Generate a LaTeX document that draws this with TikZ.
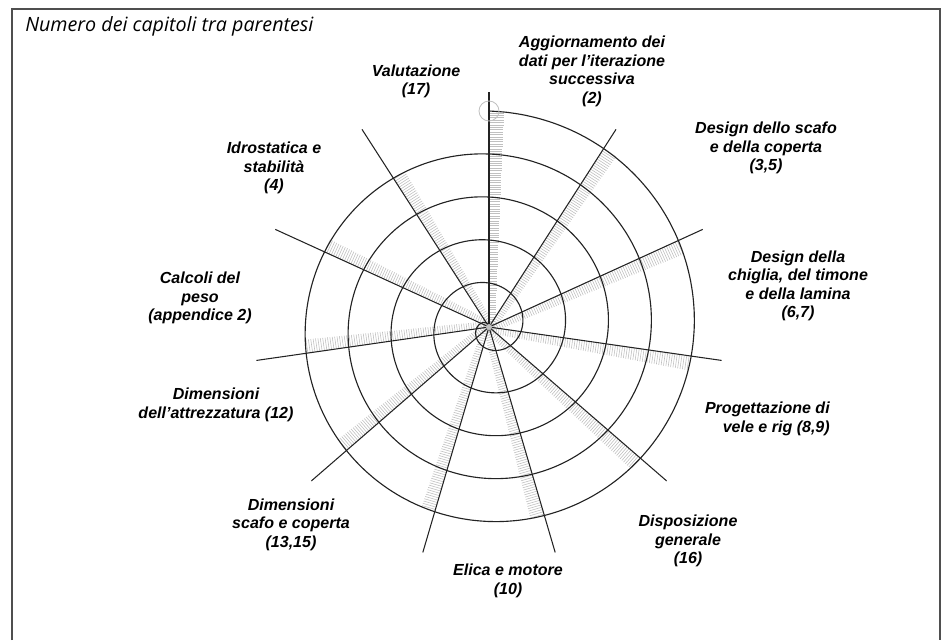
\documentclass[tikz,border=0pt]{standalone}
\usepackage{fontspec}
\setmainfont{Liberation Sans}
\newfontfamily\notefont{Open Sans}
\usetikzlibrary{positioning,calc}
\definecolor{ink}{RGB}{35,35,35}
\definecolor{hatch}{RGB}{192,192,192}

\begin{document}
\begin{tikzpicture}[x=0.025cm, y=0.025cm,
    spoke/.style={draw=ink, line width=0.75pt},
    spiral/.style={draw=ink, line width=0.8pt},
    tick/.style={draw=hatch, line width=0.42pt},
    stage/.style={font=\fontsize{11.4}{13.2}\selectfont\bfseries\itshape,
      inner sep=0pt},
  ]
  \useasboundingbox (0,0) rectangle (946,640);
  % Frame, open at the bottom
  \draw[ink!80, line width=0.9pt] (12,0) -- (12,631) -- (940,631) -- (940,0);
  \coordinate (c) at (489,313);

  % Hatching on the clockwise side of each spoke
  \foreach \k in {0,...,10}{
    \pgfmathsetmacro{\ang}{90-\k*360/11}
    \pgfmathsetmacro{\rout}{216-43*\k/11}
    \begin{scope}[shift={(c)}, rotate=\ang]
      \foreach \r in {3,5.4,...,\rout}
        \draw[tick] (\r,0) -- (\r,{-(6+0.042*\r)});
    \end{scope}
  }

  % Spokes
  \foreach \k in {0,...,10}
    \draw[spoke] (c) -- ++({90-\k*360/11}:235) coordinate (s\k);

  % Spiral
  \draw[spiral, shift={(c)}] plot[domain=0:1800, samples=400, smooth]
    ({90-\x}:{216-0.119444*\x});
  \draw[hatch, line width=0.6pt] ($(c)+(0,216)$) circle (10);
  \fill[hatch] (c) circle (3);

  % Stages
  \node[font=\notefont\itshape\fontsize{14}{16}\selectfont,
    anchor=base west, inner sep=0pt] (note) at (25,608)
    {Numero dei capitoli tra parentesi};
  \node[stage, align=center] (update) at (592,568.5)
    {Aggiornamento dei\\dati per l'iterazione\\successiva\\(2)};
  \node[stage, align=center] (eval) at (416,558.5) {Valutazione\\(17)};
  \node[stage, align=center] (hull) at (766,492)
    {Design dello scafo\\e della coperta\\(3,5)};
  \node[stage, align=center] (keel) at (798,354)
    {Design della\\chiglia, del timone\\e della lamina\\(6,7)};
  \node[stage, align=right, anchor=east] (sails) at (830,221)
    {Progettazione di\\vele e rig (8,9)};
  \node[stage, align=center] (layout) at (688,99)
    {Disposizione\\generale\\(16)};
  \node[stage, align=center] (engine) at (508,59) {Elica e motore\\(10)};
  \node[stage, align=center] (scant) at (291,115.5)
    {Dimensioni\\scafo e coperta\\(13,15)};
  \node[stage, align=center] (rigdim) at (216,235)
    {Dimensioni\\dell'attrezzatura (12)};
  \node[stage, align=center] (weight) at (200,342)
    {Calcoli del\\peso\\(appendice 2)};
  \node[stage, align=center] (hydro) at (274,472)
    {Idrostatica e\\stabilità\\(4)};
\end{tikzpicture}
\end{document}
